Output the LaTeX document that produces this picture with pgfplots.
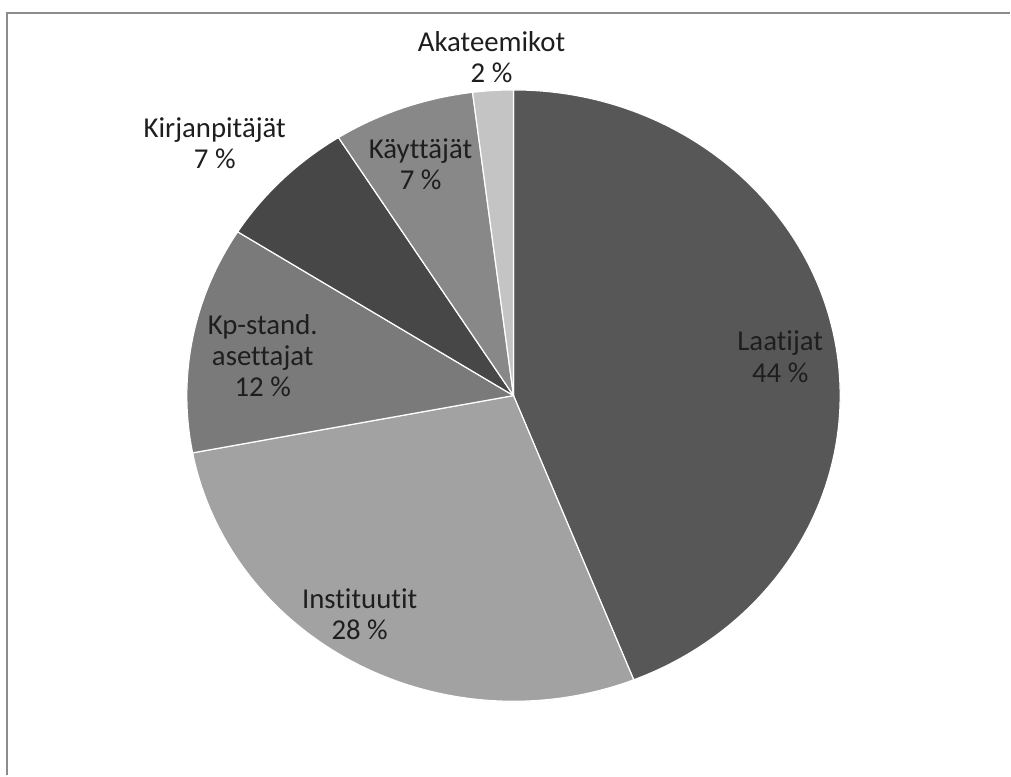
\documentclass[border=0pt]{standalone}
\usepackage{pgfplots}
\pgfplotsset{compat=1.18}
\usepackage{fontspec}
\setmainfont{Carlito}[Ligatures={NoCommon}]
\definecolor{cLaa}{HTML}{575757}
\definecolor{cIns}{HTML}{A2A2A2}
\definecolor{cKps}{HTML}{7A7A7A}
\definecolor{cKir}{HTML}{474747}
\definecolor{cKay}{HTML}{888888}
\definecolor{cAka}{HTML}{C4C4C4}
\definecolor{txt}{HTML}{1E1E1E}
\definecolor{frame}{HTML}{8C8C8C}
% values (percent), clockwise from 12 o'clock
\def\vLaa{44}\def\vIns{28}\def\vKps{12}\def\vKir{7}\def\vKay{7}\def\vAka{2}
\pgfmathsetmacro{\aA}{90}
\pgfmathsetmacro{\aB}{\aA-3.6*\vLaa}
\pgfmathsetmacro{\aC}{\aB-3.6*\vIns}
\pgfmathsetmacro{\aD}{\aC-3.6*\vKps}
\pgfmathsetmacro{\aE}{\aD-3.6*\vKir}
\pgfmathsetmacro{\aF}{\aE-3.6*\vKay}
\pgfmathsetmacro{\aG}{\aF-3.6*\vAka}
\newcommand\pieslice[3]{%
  \fill[#3, draw=white, line width=0.6pt, line join=round]
    (axis cs:514,380) -- (axis cs:{514+327*cos(#1)},{380+306*sin(#1)})
    arc[start angle=#1, end angle=#2, x radius=163.5pt, y radius=153pt] -- cycle;}
\begin{document}
\begin{tikzpicture}
\begin{axis}[
  width=505.5pt, height=388pt, scale only axis,
  xmin=0, xmax=1011, ymin=0, ymax=776,
  hide axis, clip=false,
  nodes={font=\fontsize{14.4}{15.6}\selectfont, text=txt, align=center},
]
\path (axis cs:0,0) rectangle (axis cs:1011,776);
\draw[frame, line width=1pt] (axis cs:7,0) -- (axis cs:7,763) -- (axis cs:1011,763);
\pieslice{\aA}{\aB}{cLaa}
\pieslice{\aB}{\aC}{cIns}
\pieslice{\aC}{\aD}{cKps}
\pieslice{\aD}{\aE}{cKir}
\pieslice{\aE}{\aF}{cKay}
\pieslice{\aF}{\aG}{cAka}
\node at (axis cs:781,419) {Laatijat\\\vLaa\ \%};
\node at (axis cs:360,161) {Instituutit\\\vIns\ \%};
\node at (axis cs:263,420) {Kp-stand.\\asettajat\\\vKps\ \%};
\node at (axis cs:215,633) {Kirjanpitäjät\\\vKir\ \%};
\node at (axis cs:421,612) {Käyttäjät\\\vKay\ \%};
\node at (axis cs:492,719) {Akateemikot\\\vAka\ \%};
\end{axis}
\end{tikzpicture}
\end{document}
